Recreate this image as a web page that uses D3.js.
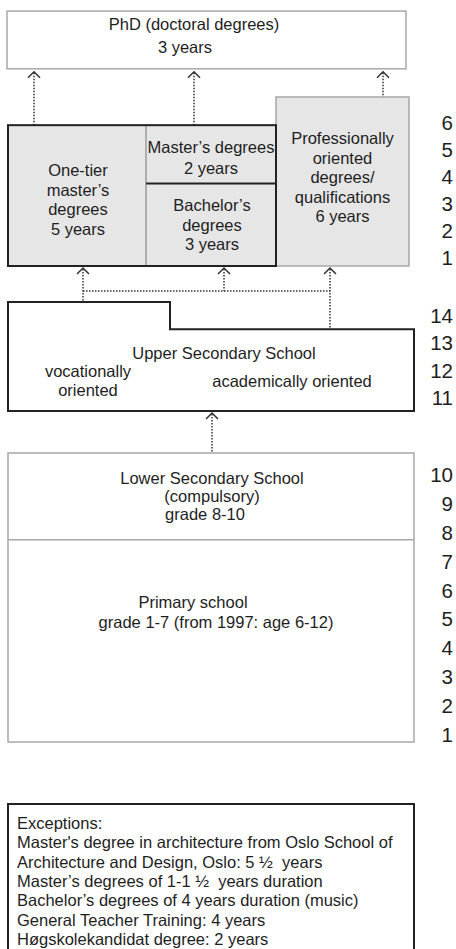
<!DOCTYPE html>
<html><head><meta charset="utf-8">
<script src="https://cdn.jsdelivr.net/npm/d3@7"></script>
<style>
html,body{margin:0;padding:0;background:#fff;}
svg{display:block;}
text{font-family:"Liberation Sans",Arial,sans-serif;fill:#1e1e1e;white-space:pre;}
</style></head>
<body>
<div id="chart"></div>
<script>
// ---- data ----
const uniYears = [1, 2, 3, 4, 5, 6];
const upperYears = [11, 12, 13, 14];
const schoolYears = [1, 2, 3, 4, 5, 6, 7, 8, 9, 10];

const phdLines = ["PhD (doctoral degrees)", "3 years"];
const oneTierLines = ["One-tier", "master\u2019s", "degrees", "5 years"];
const masterLines = ["Master\u2019s degrees", "2 years"];
const bachelorLines = ["Bachelor\u2019s", "degrees", "3 years"];
const profLines = ["Professionally", "oriented", "degrees/", "qualifications", "6 years"];
const upperTitle = "Upper Secondary School";
const vocLines = ["vocationally", "oriented"];
const acadLines = ["academically oriented"];
const lowerLines = ["Lower Secondary School", "(compulsory)", "grade 8-10"];
const primaryLines = ["Primary school", "grade 1-7 (from 1997: age 6-12)"];
const exceptionLines = [
  "Exceptions:",
  "Master's degree in architecture from Oslo School of",
  "Architecture and Design, Oslo: 5 \u00bd  years",
  "Master\u2019s degrees of 1-1 \u00bd  years duration",
  "Bachelor\u2019s degrees of 4 years duration (music)",
  "General Teacher Training: 4 years",
  "H\u00f8gskolekandidat degree: 2 years"
];
// durations (years)
const oneTierYears = 5, bachelorYears = 3, masterYears = 2, profYears = 6;
const vocationalYears = 4, academicYears = 3;
const primaryGrades = 7, lowerGrades = 3;

// ---- layout ----
const W = 456, H = 949;
const svg = d3.select("#chart").append("svg").attr("width", W).attr("height", H);

const GRAY = "#a8a8a8", BLACK = "#222", FILL = "#e6e6e6", DOT = "#333";
const FS = 16.5, NFS = 20.5;

const yUni = d3.scaleLinear().domain([0, 6]).range([266, 97]);
const yUniLab = d3.scaleLinear().domain([1, 6]).range([257, 122]);
const yUp = d3.scaleLinear().domain([10, 14]).range([411, 302]);
const yLow = d3.scaleLinear().domain([0, 10]).range([742, 453]);

const xL = 8, xR = 414, xMid = 146, xProf = 276, xProfR = 409;

function lines(arr, cx, y0, dy, anchor = "middle") {
  const g = svg.append("g");
  g.selectAll("text").data(arr).join("text")
    .attr("x", cx).attr("y", (d, i) => y0 + i * dy)
    .attr("text-anchor", anchor).attr("dominant-baseline", "central")
    .attr("font-size", FS).text(d => d);
  return g;
}
function label(t, x, y) {
  svg.append("text").attr("x", x).attr("y", y).attr("text-anchor", "middle")
    .attr("dominant-baseline", "central").attr("font-size", FS).text(t);
}
function dotted(x1, y1, x2, y2) {
  svg.append("line").attr("x1", x1).attr("y1", y1).attr("x2", x2).attr("y2", y2)
    .attr("stroke", DOT).attr("stroke-width", 1.5).attr("stroke-dasharray", "1.5,1.5");
}
function arrowHead(x, tip) {
  svg.append("path").attr("d", `M${x - 6},${tip + 6}L${x},${tip}L${x + 6},${tip + 6}`)
    .attr("fill", "none").attr("stroke", DOT).attr("stroke-width", 1.5);
}

// PhD box
svg.append("rect").attr("x", 7).attr("y", yUni(9.05)).attr("width", 399).attr("height", yUni(7) - yUni(9.05))
  .attr("fill", "#fff").attr("stroke", GRAY).attr("stroke-width", 1.5);
label(phdLines[0], 194, 24);
label(phdLines[1], 185, 47);

// arrows to PhD
[[34, yUni(oneTierYears)], [194, yUni(bachelorYears + masterYears)], [383, yUni(profYears)]].forEach(([x, y2]) => {
  const tip = yUni(7) + 3;
  dotted(x, tip + 1, x, y2);
  arrowHead(x, tip);
});

// professional box
svg.append("rect").attr("x", xProf).attr("y", yUni(profYears)).attr("width", xProfR - xProf)
  .attr("height", yUni(0) - yUni(profYears)).attr("fill", FILL).attr("stroke", GRAY).attr("stroke-width", 1.5);
lines(profLines, (xProf + xProfR) / 2, 138, 19.5);

// left box (one-tier + master/bachelor)
svg.append("rect").attr("x", xL).attr("y", yUni(oneTierYears)).attr("width", xProf - xL)
  .attr("height", yUni(0) - yUni(oneTierYears)).attr("fill", FILL).attr("stroke", "none");
svg.append("line").attr("x1", xMid).attr("x2", xMid).attr("y1", yUni(oneTierYears)).attr("y2", yUni(0))
  .attr("stroke", "#777").attr("stroke-width", 1);
svg.append("line").attr("x1", xMid).attr("x2", xProf).attr("y1", yUni(bachelorYears) + 2).attr("y2", yUni(bachelorYears) + 2)
  .attr("stroke", BLACK).attr("stroke-width", 2);
svg.append("rect").attr("x", xL).attr("y", yUni(oneTierYears)).attr("width", xProf - xL)
  .attr("height", yUni(0) - yUni(oneTierYears)).attr("fill", "none").attr("stroke", BLACK).attr("stroke-width", 2);
lines(oneTierLines, 78, 170, 19.7);
lines(masterLines, 211, 147, 20.5);
lines(bachelorLines, 212, 205, 19.7);

// uni year labels
svg.append("g").selectAll("text").data(uniYears).join("text")
  .attr("x", 453).attr("y", d => yUniLab(d)).attr("text-anchor", "end").attr("dominant-baseline", "central")
  .attr("font-size", NFS).text(d => d);

// connectors between upper secondary and higher ed
const connTip = yUni(0) + 2, connY = 291;
const xc1 = 83, xc2 = 224, xc3 = 330;
dotted(xc1, connTip + 1, xc1, yUp(14));
dotted(xc2, connTip + 1, xc2, connY);
dotted(xc3, connTip + 1, xc3, yUp(10 + academicYears));
dotted(xc1, connY, xc3, connY);
[xc1, xc2, xc3].forEach(x => arrowHead(x, connTip));

// upper secondary polygon
const xStep = 170;
svg.append("path")
  .attr("d", `M${xL},${yUp(10 + vocationalYears)}H${xStep}V${yUp(10 + academicYears)}H${xR}V${yUp(10)}H${xL}Z`)
  .attr("fill", "#fff").attr("stroke", BLACK).attr("stroke-width", 2);
lines([upperTitle], 224, 353, 0);
lines(vocLines, 88, 371, 18.5);
lines(acadLines, 292, 381, 0);
svg.append("g").selectAll("text").data(upperYears).join("text")
  .attr("x", 453).attr("y", d => yUp(d - 0.5)).attr("text-anchor", "end").attr("dominant-baseline", "central")
  .attr("font-size", NFS).text(d => d);

// arrow lower -> upper
dotted(212, yUp(10) + 3, 212, yLow(10));
arrowHead(212, yUp(10) + 2);

// lower & primary box
svg.append("rect").attr("x", xL).attr("y", yLow(10)).attr("width", xR - xL).attr("height", yLow(0) - yLow(10))
  .attr("fill", "#fff").attr("stroke", GRAY).attr("stroke-width", 1.5);
svg.append("line").attr("x1", xL).attr("x2", xR).attr("y1", yLow(primaryGrades)).attr("y2", yLow(primaryGrades))
  .attr("stroke", GRAY).attr("stroke-width", 1.5);
label(lowerLines[0], 212, 478);
label(lowerLines[1], 212, 496);
label(lowerLines[2], 205, 514);
label(primaryLines[0], 193, 602);
label(primaryLines[1], 216, 622);
svg.append("g").selectAll("text").data(schoolYears).join("text")
  .attr("x", 453).attr("y", d => yLow(d - 0.5) + 7).attr("text-anchor", "end").attr("dominant-baseline", "central")
  .attr("font-size", NFS).text(d => d);

// exceptions box
svg.append("rect").attr("x", xL).attr("y", 804).attr("width", xR - xL).attr("height", 160)
  .attr("fill", "#fff").attr("stroke", BLACK).attr("stroke-width", 2);
lines(exceptionLines, 17, 823, 19.3, "start");
</script>
</body></html>
